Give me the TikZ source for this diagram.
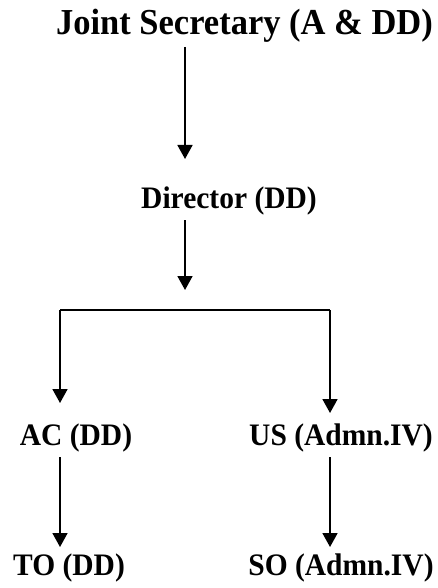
\documentclass[tikz,border=0pt]{standalone}
\usepackage{fontspec}
\setmainfont{Liberation Serif}
\usetikzlibrary{arrows.meta}
\newcommand{\tallbox}[1]{\scalebox{1}[1.06]{#1}}
\begin{document}
\begin{tikzpicture}[x=1pt,y=1pt,
  ttl/.style={font=\bfseries\fontsize{34.5}{40}\selectfont, inner sep=0pt, anchor=base},
  lbl/.style={font=\bfseries\fontsize{29.5}{34}\selectfont, inner sep=0pt, anchor=base},
  arr/.style={line width=1.8pt, -{Triangle[width=15pt,length=14pt]}},
  ln/.style={line width=1.8pt}]
\useasboundingbox (0,0) rectangle (438,-588);
\node[ttl] (js) at (244.5,-35) {\tallbox{Joint Secretary (A \& DD)}};
\node[lbl] (dir) at (229,-208) {\tallbox{Director (DD)}};
\node[lbl] (ac) at (76,-445) {\tallbox{AC (DD)}};
\node[lbl] (us) at (341,-445) {\tallbox{US (Admn.IV)}};
\node[lbl] (to) at (69,-575) {\tallbox{TO (DD)}};
\node[lbl] (so) at (341,-575) {\tallbox{SO (Admn.IV)}};
\coordinate (a1s) at (185,-47);
\coordinate (a1e) at (185,-159);
\coordinate (a2s) at (185,-220);
\coordinate (a2e) at (185,-290);
\coordinate (hl) at (60,-310);
\coordinate (hr) at (330,-310);
\coordinate (lt) at (60,-403);
\coordinate (rt) at (330,-413);
\coordinate (l2s) at (60,-457);
\coordinate (l2e) at (60,-547);
\coordinate (r2s) at (330,-457);
\coordinate (r2e) at (330,-547);
\draw[arr] (a1s) -- (a1e);
\draw[arr] (a2s) -- (a2e);
\draw[ln] (hl) -- (hr);
\draw[arr] (hl) -- (lt);
\draw[arr] (hr) -- (rt);
\draw[arr] (l2s) -- (l2e);
\draw[arr] (r2s) -- (r2e);
\end{tikzpicture}
\end{document}
